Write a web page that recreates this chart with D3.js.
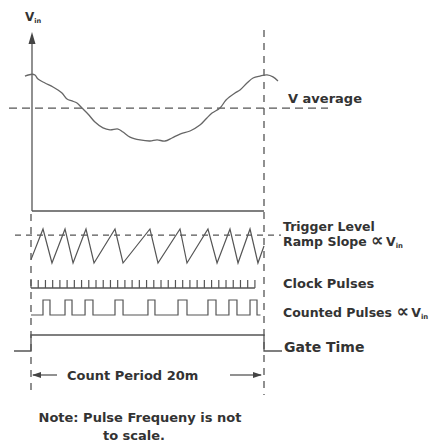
<!DOCTYPE html>
<html>
<head>
<meta charset="utf-8">
<script src="https://cdn.jsdelivr.net/npm/d3@7"></script>
<style>
  body { margin: 0; background: #fff; }
  text { font-family: "DejaVu Sans", sans-serif; font-weight: bold; fill: #333; }
</style>
</head>
<body>
<script>
// input voltage trace (time in ms over the 20 ms count period, level in arbitrary volts)
var vinTime  = [-0.52, 0.09, 0.34, 0.6, 1.2, 1.89, 2.66, 3.09, 3.52, 3.95, 4.38, 4.89, 5.49, 6.18, 6.78, 7.47, 7.9, 8.5, 9.36, 10.21,
                10.82, 11.5, 12.1, 12.79, 13.65, 14.5, 15.1, 15.54, 16.22, 16.74, 17.51, 17.94, 18.54, 19.06, 19.66, 20.26, 20.77, 21.2];
var vinLevel = [7.54, 7.64, 7.6, 7.37, 7.15, 6.93, 6.59, 6.26, 6.15, 6.03, 5.75, 5.42, 4.97, 4.64, 4.53, 4.58, 4.41, 4.13, 3.97, 3.91,
                3.97, 3.91, 4.08, 4.3, 4.47, 4.8, 5.2, 5.47, 5.75, 6.2, 6.59, 6.76, 7.15, 7.43, 7.54, 7.6, 7.49, 7.26];
var vAverage = 5.75;

// ramp: peak / trough times, normalised level (0 = reset, 1 = peak)
var rampPeaks   = [1.03, 2.92, 4.72, 7.21, 10.21, 12.79, 15.19, 17.08, 18.8];
var rampTroughs = [1.8, 3.61, 5.41, 7.9, 10.9, 13.39, 15.97, 17.77, 19.48];
var rampStart = 0.1, rampEnd = 0.5, triggerLevel = 0.82;

// clock ticks
var clockTicks = [0, 0.62, 1.24, 1.86, 2.48, 3.1, 3.72, 4.34, 4.96, 5.58, 6.2, 6.82, 7.44, 8.06, 8.68, 9.3,
                  9.92, 10.54, 11.16, 11.78, 12.4, 13.02, 13.64, 14.26, 14.88, 15.5, 16.12, 16.74, 17.36, 17.98, 18.6, 19.22];

// counted pulses
var pulseRise = [1.03, 2.92, 4.64, 7.21, 10.04, 12.62, 15.19, 16.99, 18.8];
var pulseFall = [1.63, 3.52, 5.32, 7.9, 10.64, 13.39, 15.88, 17.68, 19.4];

var gateStart = 0, gateEnd = 20;

var W = 446, H = 442;
var ink = '#555';

var svg = d3.select('body').append('svg')
    .attr('width', W)
    .attr('height', H);

var x = d3.scaleLinear().domain([0, 20]).range([31, 264]);
var yV = d3.scaleLinear().domain([0, 10]).range([211, 32]);
var yRamp = d3.scaleLinear().domain([0, 1]).range([263, 229]);
var yCount = d3.scaleLinear().domain([0, 1]).range([315, 300]);
var yGate = d3.scaleLinear().domain([0, 1]).range([351, 335]);
var clockBase = 288, clockTop = 280;

function seg(x1, y1, x2, y2, dash) {
  var l = svg.append('line')
    .attr('x1', x1).attr('y1', y1).attr('x2', x2).attr('y2', y2)
    .attr('stroke', ink).attr('stroke-width', 1.3);
  if (dash) l.attr('stroke-dasharray', dash);
  return l;
}

// axes of the Vin plot
seg(x(0) + 1, yV(0), x(0) + 1, yV(10) + 10);
seg(x(0) + 1, yV(0), x(20), yV(0));
svg.append('path')
    .attr('d', d3.line()([[x(0) + 1, yV(10)], [x(0) - 2.5, yV(10) + 12], [x(0) + 4.5, yV(10) + 12]]) + 'Z')
    .attr('fill', '#444');

// period markers
seg(x(0), yV(0) + 3, x(0), 395, '7,6');
seg(x(20), 30, x(20), 395, '7,6');

// average level
seg(9, yV(vAverage), 328, yV(vAverage), '8,5');

// Vin trace
svg.append('path')
    .datum(d3.zip(vinTime, vinLevel))
    .attr('fill', 'none')
    .attr('stroke', '#666')
    .attr('stroke-width', 1.3)
    .attr('d', d3.line()
        .x(function(d) { return x(d[0]); })
        .y(function(d) { return yV(d[1]); })
        .curve(d3.curveCatmullRom));

// trigger level
seg(15, yRamp(triggerLevel), 281, yRamp(triggerLevel), '6,5');

// ramp
var rampPts = [[0, rampStart]];
rampPeaks.forEach(function(p, i) {
  rampPts.push([p, 1]);
  rampPts.push([rampTroughs[i], 0]);
});
rampPts.push([20, rampEnd]);
svg.append('path')
    .attr('fill', 'none')
    .attr('stroke', ink)
    .attr('stroke-width', 1.2)
    .attr('d', d3.line()
        .x(function(d) { return x(d[0]); })
        .y(function(d) { return yRamp(d[1]); })(rampPts));

// clock pulses
seg(x(clockTicks[0]), clockBase, x(clockTicks[clockTicks.length - 1]), clockBase);
svg.selectAll('line.clk')
    .data(clockTicks)
  .enter().append('line')
    .attr('class', 'clk')
    .attr('x1', function(d) { return x(d); })
    .attr('x2', function(d) { return x(d); })
    .attr('y1', clockBase)
    .attr('y2', clockTop)
    .attr('stroke', ink)
    .attr('stroke-width', 1.2);

// counted pulses
var cntPts = [[0, 0]];
pulseRise.forEach(function(r, i) {
  cntPts.push([r, 0], [r, 1], [pulseFall[i], 1], [pulseFall[i], 0]);
});
cntPts.push([19.7, 0]);
svg.append('path')
    .attr('fill', 'none')
    .attr('stroke', ink)
    .attr('stroke-width', 1.2)
    .attr('d', d3.line()
        .x(function(d) { return x(d[0]); })
        .y(function(d) { return yCount(d[1]); })(cntPts));

// gate
svg.append('path')
    .attr('fill', 'none')
    .attr('stroke', ink)
    .attr('stroke-width', 1.3)
    .attr('d', d3.line()([
      [14, yGate(0)], [x(gateStart), yGate(0)], [x(gateStart), yGate(1)],
      [x(gateEnd), yGate(1)], [x(gateEnd), yGate(0)], [282, yGate(0)]
    ]));

// count period arrows
var ay = 375;
seg(x(0) + 2, ay, 57, ay);
seg(230, ay, x(20) - 3, ay);
svg.append('path').attr('fill', '#444')
    .attr('d', 'M' + (x(0) + 1) + ',' + ay + 'l9,-3l0,6Z');
svg.append('path').attr('fill', '#444')
    .attr('d', 'M' + (x(20) - 2) + ',' + ay + 'l-9,-3l0,6Z');

// labels
function label(tx, ty, parts, size, anchor) {
  var t = svg.append('text')
    .attr('x', tx).attr('y', ty)
    .attr('font-size', size)
    .attr('text-anchor', anchor || 'start');
  parts.forEach(function(p) {
    var s = t.append('tspan').text(p[0]);
    if (p[1] === 'sub') s.attr('font-size', size * 0.55).attr('dy', 2);
    if (p[1] === 'big') s.attr('font-size', size * 1.4);
  });
  return t;
}

label(25, 21, [['V'], ['in', 'sub']], 12);
label(288, 103, [['V average']], 13);
label(283, 230.5, [['Trigger Level']], 12.5);
label(283, 246, [['Ramp Slope '], ['\u221D', 'big'], ['\u2009V'], ['in', 'sub']], 12.5);
label(283, 288, [['Clock Pulses']], 13);
label(283, 317, [['Counted Pulses '], ['\u221D', 'big'], ['\u2009V'], ['in', 'sub']], 12.5);
label(284, 352, [['Gate Time']], 14);
label(67, 380, [['Count Period 20m']], 13);
label(140, 422, [['Note: Pulse Frequeny is not']], 13, 'middle');
label(134, 440, [['to scale.']], 13, 'middle');
</script>
</body>
</html>
